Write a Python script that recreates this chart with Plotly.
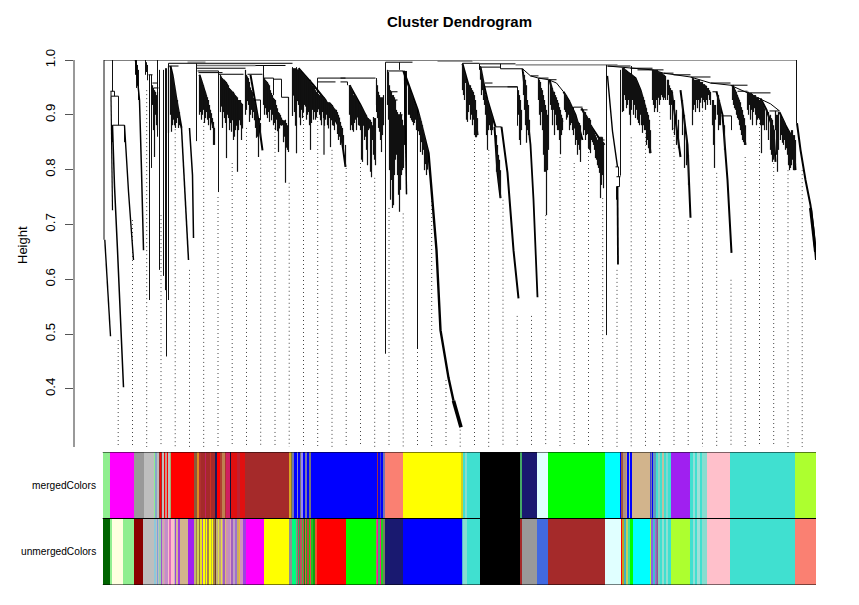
import plotly.graph_objects as go

# ---- colour rows: left edge of each run (leaf position) and its colour
merged_edges = [102.7,109.5,134,144,154,155.5,157,159,160.5,161.5,162.5,164,165,167,168,170,171,194,197,198.7,201,205,206,210,211,215.7,216.7,220,222,225,226,230.3,231,236,237,240,241,245,289.3,291,292,294,297,298,300,301,303,305.7,307.3,309,311,377,378.5,380,381,383,385,403,461.7,462.5,465,467,479.5,520,522,537,548,604.5,620,621.5,623,626,627.5,629,629.8,632,650,651,652,653,656,658,660,662,664,666,668,671,690,693,695,697,700,702,707,730,795]
merged_colors = ['lightgreen','magenta','#999999','#BEBEBE','lightgreen','#87A8C8','#BEBEBE','brown','red','brown','#BEBEBE','red','#C8968C','red','#BEBEBE','#A0B070','red','#8A5A3A','#E08A20','#B03030','#A52A2A','#C02060','#A52A2A','#D03020','#A52A2A','#1A1A5A','red','#B04030','#C08050','#B03030','#D02060','#10103A','#E01010','#E01010','#C02030','#E01010','#E01010','brown','goldenrod','#808030','#7777AA','blue','#8888CC','blue','#777777','#9988EE','blue','#7777AA','blue','#777777','blue','#A03040','blue','#4040D0','blue','#7777AA','salmon','yellow','#D0D020','turquoise','#88DDD0','turquoise','black','#44AA66','midnightblue','lightcyan','lime','cyan','blue','#A05040','#B09080','#C0A080','blue','#A0C0B0','blue','tan','#4444CC','#7777AA','blue','#6699BB','turquoise','#90D0C0','turquoise','#C0C0A0','turquoise','#80D8D0','turquoise','#A020F0','turquoise','#90E0D8','turquoise','#A0E0D8','turquoise','#88DDD0','pink','turquoise','greenyellow']
unmerged_edges = [102.7,109.5,111.7,123,134,143,154,156,157,158,159.5,161,162,164,165,168,169,171,174,175.5,176.5,178,180,188,194,196,197,199,200.5,202,203,205,206,207.5,209,211,212,213,215,216,218,219,221,222,223.5,225,226,228,230,231,233,235,237,239,240,243,246,264,289.3,292,296,297,298,299,300,302,303,304,305,306,307,309,310,311,313,315,317,346,376,377.5,378.5,380,381,382.5,385,403,461,462,463,465,467,479.5,520,521.5,537,548,604.5,620.5,622.5,624,626,628,630,633,650,651.5,653,655,656,657,658,660,662,664,666,668,671,690,693,695,697,700,702,707,730,795]
unmerged_colors = ['darkgreen','lightgreen','lightyellow','lightgreen','darkred','#BEBEBE','#90C8D8','#BEBEBE','#7B9FE0','#BEBEBE','#90D0B0','#A050D0','#C8B0B0','#E090C0','#C090C8','pink','#E070C0','pink','#BEBEBE','#A040E0','#D8B890','#A040E0','tan','#A020F0','#BDB76B','#A58050','#D0D050','#8A7A30','#E8E020','#A060C0','yellow','#B0A060','yellow','#A58050','yellow','#C0C040','yellow','#A08050','#704020','#C0B080','#E0E040','#C0A080','#E8E040','#D0A0A0','#A060C0','#D8C070','#D090B0','#C090C0','#E0A0C0','#A060C0','#C0A0C0','#A070D0','#C8B060','#F0B040','#D090C0','#A040E0','magenta','yellow','#909090','springgreen','#909090','#30C060','#D04060','#30A060','#C05060','#40C040','#D04050','#208020','#E06040','#20B020','#C04040','#10D010','#E05050','#20C020','#10A010','#F05030','red','lime','#C06080','#FF1493','#30C060','#FF1493','#20D020','#708060','midnightblue','blue','blue','#58B8D8','#88DDD0','#88DDD0','turquoise','black','brown','#999999','royalblue','brown','lightcyan','red','#C0A020','#40B0C0','#C0D060','#40E0A0','lime','cyan','greenyellow','#9060E0','#40C0D0','#B060D0','#7777AA','#A05090','#80D0C0','turquoise','#90E0D0','turquoise','#90E0D0','turquoise','greenyellow','turquoise','#90E0D8','turquoise','#A0E0D8','turquoise','#88DDD0','pink','turquoise','salmon']
plot_end = 816.5

# ---- dotted guide lines: leaf position and height where each starts
guide_x = [117.7,132,146.2,160.5,174.7,189,203.2,217.5,231.7,246,260.2,274.5,288.7,303,317.2,331.5,345.7,360,374.2,388.5,402.7,417,431.2,445.5,459.7,474,488.2,502.5,516.7,531,545.2,559.5,573.7,588,602.2,616.5,630.7,645,659.2,673.5,687.7,702,716.2,730.5,744.7,759,773.2,787.5,801.7]
guide_top = [.489,.708,.945,.717,.881,.617,.887,.750,.812,.876,.818,.876,.776,.927,.896,.836,.803,.812,.785,.730,.720,.489,.750,.416,.340,.854,.836,.745,.533,.533,.717,.823,.812,.854,.748,.617,.859,.867,.905,.876,.708,.922,.794,.599,.823,.885,.812,.799,.799]
guide_low = .2938

# ---- merge links: horizontal runs
link_x0 = [103.5,385,168,196,196,197,198,218,247,263,273,281,253,317,317,340,340,387,388,390,397,462,479,480,500,484,484,495,607,630,637,663,673,690,710,730,737,747,769,110,110.5,112,148,152,153,168,507,538,530,548,573,580,597,615,616,616,721,712,597]
link_x1 = [472,412,292,285,245,218,222,243,262,273,281,288,260,345,335,375,347,403,397,397,402,479,515,500,522,492,517,501,630,652,663,673,690,710,730,747,747,770,779,114,118,124,152,157,158,178,517,548,538,556,582,587,602,618,620,619,731,717,604]
link_h = [1.0,.996,.994,.990,.985,.980,.977,.974,.974,.967,.965,.932,.927,.967,.960,.967,.960,.980,.942,.927,.900,.994,.993,.987,.984,.958,.951,.878,.989,.985,.982,.976,.973,.969,.958,.954,.943,.940,.907,.943,.934,.881,.973,.958,.949,.989,.951,.967,.971,.964,.914,.909,.859,.805,.787,.769,.898,.942,.854]
grey_x0 = [472,187,437,515,196]
grey_x1 = [796,205,472,617,255]
grey_h = [1.0,.996,.998,.991,.990]

# ---- vertical stems
stem_x = [103.5,112,110.5,114,118,112,124,168,170,196,218,218,376,385,399,417,417,404,405,406,462,479,500,517,606,620,616,618,619,631,796,731,721,149,151,157,159,163,165,166,168,135,136,137,138,145,146,147,292,296,573,281,288,260,317,347,263,273]
stem_top = [1.0,1.0,.943,.943,.934,.881,.881,.994,.989,.994,.980,.980,.967,.996,.996,.909,.909,.980,.980,.980,.994,.993,.993,.951,.991,.982,.769,.805,.787,.989,1.0,.898,.898,.973,.973,1.0,.982,.982,.985,.985,.987,1.0,1.0,.991,.982,1.0,.996,.991,.987,.987,.914,.965,.932,.927,.967,.960,.990,.967]
stem_low = [.672,.943,.934,.934,.881,.850,.850,.867,.907,.852,.810,.759,.905,.464,.982,.473,.473,.845,.836,.755,.952,.982,.984,.880,.498,.789,.745,.787,.769,.973,.885,.872,.898,.562,.803,.860,.617,.606,.580,.459,.562,.973,.949,.953,.927,.973,.978,.963,.898,.830,.890,.932,.880,.890,.940,.954,.967,.936]

# ---- long arms, as (leaf position, height)
arm_a_x = [104.3,107,110]; arm_a_h = [.672,.580,.496]
arm_b_x = [112,114,117,120,123]; arm_b_h = [.881,.770,.653,.530,.403]
arm_c_x = [124,128,133]; arm_c_h = [.881,.760,.635]
arm_d_x = [110.5,112]; arm_d_h = [.934,.726]
arm_e_x = [135,137,139,141,143]; arm_e_h = [1.0,.964,.927,.799,.653]
arm_f_x = [181,184,188]; arm_f_h = [.876,.763,.635]
arm_g_x = [189,192,193]; arm_g_h = [.876,.790,.675]
arm_h_x = [403,417,428,436,440,448,453]; arm_h_h = [.980,.909,.830,.653,.507,.420,.378]
arm_i_x = [453,459,460.5]; arm_i_h = [.378,.342,.330]
arm_j_x = [501,507,513,518]; arm_j_h = [.878,.794,.653,.565]
arm_k_x = [522,527,530,533,535,537]; arm_k_h = [.984,.900,.845,.745,.653,.567]
arm_l_x = [607,612,617]; arm_l_h = [.971,.870,.805]
arm_m_x = [617,617.5]; arm_m_h = [.769,.627]
arm_n_x = [716,722,727,731]; arm_n_h = [.942,.900,.781,.648]
arm_o_x = [680,687,690]; arm_o_h = [.945,.845,.712]
arm_p_x = [796.5,800,805,810,813,815.5]; arm_p_h = [.885,.836,.781,.735,.690,.635]
arm_q_x = [671,675,680]; arm_q_h = [.945,.891,.823]
arm_r_x = [494,497,500]; arm_r_h = [.878,.794,.748]
arm_s_x = [170,172,176,181]; arm_s_h = [.989,.973,.927,.876]
arm_t_x = [199,205,213]; arm_t_h = [.973,.938,.876]
arm_u_x = [250,258,262]; arm_u_h = [.973,.889,.835]
arm_v_x = [298,313,325,340,345]; arm_v_h = [.985,.954,.927,.872,.805]
arm_w_x = [349,360,371]; arm_w_h = [.954,.918,.877]
arm_x_x = [462,468,475,477]; arm_x_h = [.993,.954,.900,.863]
arm_y_x = [480,483,487,495]; arm_y_h = [.987,.958,.927,.878]
arm_z_x = [622,635,640,645,650]; arm_z_h = [.985,.967,.945,.912,.830]
arm_aa_x = [563,568,575,582]; arm_aa_h = [.942,.927,.900,.854]
arm_ab_x = [581,590,598,604]; arm_ab_h = [.912,.881,.859,.845]
arm_ac_x = [732,738,745]; arm_ac_h = [.954,.927,.845]
arm_ad_x = [760,766,773,775]; arm_ad_h = [.930,.909,.872,.814]
arm_ae_x = [779,785,793,795]; arm_ae_h = [.905,.881,.854,.799]
arm_af_x = [549,553,558,562]; arm_af_h = [.964,.936,.909,.887]
arm_ag_x = [404,406]; arm_ag_h = [.980,.755]
arm_ah_x = [810,812,815]; arm_ah_h = [.730,.700,.650]
arm_ai_x = [522,530,538,548,556,563]; arm_ai_h = [.984,.971,.967,.964,.958,.942]
arm_aj_x = [607,630,652,663,673,690,710,730,747,770,779]; arm_aj_h = [.989,.985,.982,.976,.973,.969,.958,.954,.940,.920,.907]

# ---- fans of leaves: position, height of the top, height of the lowest leaf
fan1_x = [168,170,171,172,173,174,175,176,177,178,179]
fan1_t = [.989,.982,.978,.973,.967,.954,.945,.932,.927,.912,.905]
fan1_l = [.867,.900,.869,.881,.891,.881,.876,.885,.894,.876,.881]
fan2_x = [199,200,201,203,204,205,207,208,209,210,211,212,213,214]
fan2_t = [.973,.967,.964,.954,.945,.942,.932,.927,.918,.909,.903,.894,.887,.876]
fan2_l = [.900,.905,.891,.909,.885,.894,.891,.881,.894,.872,.889,.876,.845,.845]
fan3_x = [220,222,224,226,228,229,231,233,235,237,238,240,241]
fan3_t = [.973,.967,.964,.960,.954,.949,.945,.942,.936,.932,.927,.927,.922]
fan3_l = [.905,.876,.894,.821,.894,.872,.869,.854,.872,.796,.872,.881,.854]
fan4_x = [245,246,248,249,251,252,253,255,256,258,259]
fan4_t = [.982,.973,.967,.960,.945,.942,.931,.918,.909,.891,.894]
fan4_l = [.900,.909,.918,.887,.909,.894,.905,.876,.858,.823,.881]
fan5_x = [263,264,265,267,269,270,272,273,275,276,278,280,282,285,287,288]
fan5_t = [.973,.967,.964,.960,.954,.945,.936,.931,.927,.918,.905,.900,.891,.891,.881,.932]
fan5_l = [.918,.900,.912,.894,.887,.909,.900,.881,.872,.891,.832,.881,.881,.776,.836,.832]
fan6_x = [292,296,298,300,301,302,304,306,308,309,310,312,313,315,317,319,321,323,323.5,325,327,329,330,332,334,336,338,340,342,343,345]
fan6_t = [.985,.985,.982,.982,.978,.976,.973,.969,.964,.960,.964,.954,.954,.945,.940,.936,.936,.932,.932,.927,.923,.923,.922,.918,.912,.909,.900,.887,.876,.863,.845]
fan6_l = [.898,.830,.918,.881,.909,.894,.918,.891,.905,.881,.836,.909,.891,.891,.905,.900,.881,.894,.827,.891,.881,.894,.841,.881,.872,.887,.854,.845,.845,.836,.805]
fan7_x = [349,350,351,352,353,355,356,358,360,361,362,364,366,367,368,370,371,372,373,374,375]
fan7_t = [.954,.954,.949,.945,.936,.936,.931,.923,.918,.914,.912,.905,.900,.894,.894,.891,.887,.881,.896,.894,.894]
fan7_l = [.900,.872,.881,.872,.869,.891,.872,.881,.872,.818,.814,.854,.836,.808,.872,.796,.786,.854,.827,.818,.808]
fan8_x = [376,377,378,379,380,381,382,383]
fan8_t = [.964,.954,.942,.936,.932,.932,.932,.936]
fan8_l = [.918,.894,.876,.869,.854,.832,.863,.881]
fan9_x = [387,388,389,390,391,392,393,394,395,396,397,398,399,400,401,402,403]
fan9_t = [.982,.978,.954,.945,.942,.936,.936,.932,.927,.909,.905,.900,.900,.905,.900,.891,.881]
fan9_l = [.918,.891,.799,.745,.781,.730,.735,.790,.818,.827,.790,.754,.723,.763,.790,.799,.803]
fan10_x = [408,410,412,413,415,416,419,420,422,423,424,426]
fan10_t = [.954,.942,.936,.927,.918,.914,.900,.894,.881,.872,.863,.845]
fan10_l = [.900,.894,.887,.881,.891,.872,.863,.832,.827,.836,.799,.790]
fan11_x = [462,463,464,465,466,467,468,469,470,471,472,473,474,475,476,477]
fan11_t = [.993,.985,.978,.973,.964,.960,.954,.954,.954,.949,.945,.942,.936,.927,.909,.894]
fan11_l = [.945,.936,.927,.958,.891,.887,.905,.918,.891,.900,.881,.891,.863,.859,.859,.863]
fan12_x = [480,481,482,483,484,485,486,487,488,489,490,491,492]
fan12_t = [.989,.982,.973,.964,.945,.936,.931,.927,.922,.914,.909,.903,.898]
fan12_l = [.964,.936,.945,.927,.918,.900,.863,.836,.872,.881,.872,.863,.872]
fan13_x = [496,497,498,499,500,518,519,520,521]
fan13_t = [.863,.845,.827,.818,.799,.945,.936,.927,.909]
fan13_l = [.796,.794,.776,.763,.748,.900,.854,.845,.872]
fan14_x = [523,524,525,526,527,528,529]
fan14_t = [.978,.973,.964,.954,.927,.918,.891]
fan14_l = [.936,.909,.881,.849,.872,.863,.854]
fan15_x = [538,539,540,541,542,543,544,545,546,547,548]
fan15_t = [.967,.964,.960,.949,.945,.936,.927,.918,.909,.900,.964]
fan15_l = [.927,.900,.881,.905,.872,.827,.796,.796,.717,.799,.836]
fan16_x = [550,551,552,553,554,555,556,557,558,559,560,561,562]
fan16_t = [.960,.954,.949,.942,.942,.936,.932,.927,.922,.914,.909,.900,.894]
fan16_l = [.918,.909,.881,.909,.863,.900,.881,.872,.872,.854,.828,.863,.872]
fan17_x = [564,566,568,569,570,572,573,575,576,577,578,579,580]
fan17_t = [.940,.936,.927,.927,.922,.912,.909,.900,.894,.891,.887,.885,.881]
fan17_l = [.909,.891,.900,.872,.881,.872,.863,.845,.854,.827,.845,.836,.814]
fan18_x = [583,584,585,586,588,589,590,591,592,593,594,595,596,597,598,599,600,601,602,603]
fan18_t = [.909,.905,.905,.900,.894,.894,.891,.881,.876,.872,.867,.863,.859,.854,.859,.854,.859,.859,.859,.850]
fan18_l = [.863,.872,.854,.863,.839,.836,.830,.854,.850,.845,.836,.821,.818,.808,.803,.794,.748,.772,.790,.766]
fan19_x = [622,623,624,625,626,627,628,629,630,631,632,633,634,635,636,637,638,639,640,641,642,643,644,645,646,647,648,649,650]
fan19_t = [.985,.985,.985,.982,.982,.978,.978,.976,.976,.974,.973,.971,.967,.967,.964,.960,.954,.951,.945,.942,.936,.932,.927,.918,.912,.905,.900,.891,.872]
fan19_l = [.905,.907,.936,.927,.912,.918,.927,.900,.881,.909,.927,.900,.918,.894,.909,.891,.885,.881,.900,.881,.867,.881,.872,.872,.845,.854,.839,.830,.830]
fan20_x = [652,653,654,655,656,657,658,659,660,661,662,663,664,665,667,668,669,670,671,672,674,676,678]
fan20_t = [.982,.982,.982,.982,.982,.982,.978,.978,.978,.978,.976,.974,.973,.971,.964,.964,.954,.949,.942,.942,.927,.909,.891]
fan20_l = [.927,.918,.905,.912,.927,.905,.931,.918,.927,.936,.932,.927,.931,.927,.927,.936,.918,.891,.918,.872,.863,.845,.839]
fan21_x = [682,684,686,688,692,693,694,695,696,697,698,699,700,701,702,703,704,705,706,707,708,709,710,712,713,714,715,717,718,719,720,724]
fan21_t = [.927,.900,.863,.827,.967,.967,.964,.964,.964,.964,.964,.964,.960,.960,.960,.956,.956,.954,.953,.949,.949,.945,.942,.927,.927,.918,.918,.936,.936,.927,.918,.881]
fan21_l = [.863,.803,.808,.772,.881,.909,.918,.905,.927,.912,.927,.905,.922,.931,.912,.927,.923,.909,.927,.918,.936,.927,.918,.881,.845,.803,.891,.900,.872,.881,.881,.836]
fan22_x = [732,733,734,735,736,737,738,739,740,741,742,743,744,745]
fan22_t = [.954,.949,.949,.945,.942,.936,.931,.927,.923,.914,.909,.900,.894,.881]
fan22_l = [.927,.918,.912,.909,.900,.894,.891,.881,.872,.863,.854,.850,.845,.845]
fan23_x = [747,748,749,750,751,752,753,754,755,756,757,758,759,760,761,762,763,764]
fan23_t = [.942,.942,.940,.940,.940,.938,.936,.936,.936,.932,.932,.932,.927,.927,.927,.923,.918,.912]
fan23_l = [.909,.900,.918,.891,.909,.881,.905,.912,.900,.881,.891,.894,.891,.881,.830,.881,.881,.872]
fan24_x = [766,768,770,771,772,773,774,775,776,777,778]
fan24_t = [.909,.905,.900,.894,.891,.881,.872,.907,.900,.900,.905]
fan24_l = [.872,.854,.836,.827,.814,.818,.827,.872,.827,.796,.836]
fan25_x = [780,781,782,783,784,785,786,787,788,789,790,791,792,793,794,795]
fan25_t = [.900,.894,.894,.891,.887,.881,.876,.872,.872,.869,.867,.872,.872,.863,.863,.854]
fan25_l = [.854,.863,.849,.845,.854,.836,.839,.827,.808,.799,.803,.808,.818,.799,.799,.808]
fan26_x = [152,153,154,155,156,157]
fan26_t = [.954,.949,.945,.942,.936,.942]
fan26_l = [.918,.872,.823,.900,.881,.872]
fan27_x = [202,206,221,223,225,227,230,232,234,236,239,242,247,250,254,257,260,266,268,271,274,277,279,281,283,284,286]
fan27_t = [.958,.936,.970,.965,.962,.957,.947,.943,.939,.934,.927,.920,.970,.950,.925,.900,.885,.962,.957,.940,.929,.912,.903,.895,.890,.890,.885]
fan27_l = [.900,.905,.915,.905,.885,.900,.885,.890,.860,.880,.890,.875,.925,.900,.890,.860,.860,.900,.905,.890,.885,.870,.875,.880,.850,.860,.840]
fan28_x = [293,294,295,297,299,303,305,307,311,314,316,318,320,322,324,326,328,331,333,335,337,339,341]
fan28_t = [.985,.985,.985,.983,.982,.975,.971,.966,.956,.950,.942,.938,.936,.933,.930,.925,.923,.920,.915,.910,.905,.895,.880]
fan28_l = [.935,.905,.880,.925,.895,.905,.915,.900,.885,.905,.895,.910,.890,.905,.880,.900,.875,.890,.880,.890,.865,.860,.850]
fan29_x = [354,357,359,363,365,369,409,411,414,418,421,425,427]
fan29_t = [.936,.927,.920,.908,.902,.892,.948,.939,.922,.904,.888,.855,.840]
fan29_l = [.885,.895,.880,.880,.860,.875,.900,.890,.885,.870,.850,.810,.800]
fan30_x = [565,567,571,574,587]
fan30_t = [.938,.930,.917,.905,.897]
fan30_l = [.905,.895,.885,.875,.865]

y_ticks = [0.4,0.5,0.6,0.7,0.8,0.9,1.0]
y_tick_text = ['0.4','0.5','0.6','0.7','0.8','0.9','1.0']
row_names = ['unmergedColors','mergedColors']

fig = go.Figure()

def add_segments(xs, ys, color, width, dash=None, axis='y'):
    fig.add_trace(go.Scatter(x=xs, y=ys, mode='lines', cliponaxis=False, hoverinfo='skip',
                             line=dict(color=color, width=width, dash=dash), yaxis=axis, showlegend=False))

gx, gy = [], []
for x, t in zip(guide_x, guide_top):
    gx += [x, x, None]; gy += [t, guide_low, None]
add_segments(gx, gy, '#444444', 1, '1px,3px')

def add_row(edges, colors, row):
    ends = edges[1:] + [plot_end]
    fig.add_trace(go.Bar(base=[e - 0.5 for e in edges], x=[e - s for s, e in zip(edges, ends)], y=[row] * len(edges),
                         orientation='h', width=1, marker=dict(color=colors, line=dict(width=0)),
                         yaxis='y2', showlegend=False, hoverinfo='skip'))
add_row(merged_edges, merged_colors, 1.5)
add_row(unmerged_edges, unmerged_colors, 0.5)
add_segments([102.2, 816, None, 102.2, 816, None, 102.2, 816],
             [0, 0, None, 1, 1, None, 2, 2], 'black', 1, axis='y2')

lx, ly = [], []
for a, b, h in zip(link_x0, link_x1, link_h):
    lx += [a, b, None]; ly += [h, h, None]
add_segments(lx, ly, 'black', 1)
gxs, gys = [], []
for a, b, h in zip(grey_x0, grey_x1, grey_h):
    gxs += [a, b, None]; gys += [h, h, None]
add_segments(gxs, gys, '#777777', 1.3)

sx, sy = [], []
for x, t, l in zip(stem_x, stem_top, stem_low):
    sx += [x, x, None]; sy += [t, l, None]
add_segments(sx, sy, '#111111', 1)

arms = [(arm_a_x,arm_a_h,1.4),(arm_b_x,arm_b_h,1.5),(arm_c_x,arm_c_h,1.4),(arm_d_x,arm_d_h,1.2),(arm_e_x,arm_e_h,1.5),
        (arm_f_x,arm_f_h,1.5),(arm_g_x,arm_g_h,1.5),(arm_h_x,arm_h_h,2.4),(arm_i_x,arm_i_h,3.6),(arm_j_x,arm_j_h,2),
        (arm_k_x,arm_k_h,1.8),(arm_l_x,arm_l_h,1.4),(arm_m_x,arm_m_h,1.8),(arm_n_x,arm_n_h,2),(arm_o_x,arm_o_h,2),
        (arm_p_x,arm_p_h,2),(arm_q_x,arm_q_h,2),(arm_r_x,arm_r_h,2),(arm_s_x,arm_s_h,2),(arm_t_x,arm_t_h,2),
        (arm_u_x,arm_u_h,2),(arm_v_x,arm_v_h,2),(arm_w_x,arm_w_h,2),(arm_x_x,arm_x_h,2),(arm_y_x,arm_y_h,2),
        (arm_z_x,arm_z_h,2),(arm_aa_x,arm_aa_h,2),(arm_ab_x,arm_ab_h,2),(arm_ac_x,arm_ac_h,2),(arm_ad_x,arm_ad_h,2),
        (arm_ae_x,arm_ae_h,2),(arm_af_x,arm_af_h,2),(arm_ag_x,arm_ag_h,1.5),(arm_ah_x,arm_ah_h,3),
        (arm_ai_x,arm_ai_h,1),(arm_aj_x,arm_aj_h,1)]
for ax, ah, w in arms:
    add_segments(ax, ah, 'black', w)

fans = [(fan1_x,fan1_t,fan1_l),(fan2_x,fan2_t,fan2_l),(fan3_x,fan3_t,fan3_l),(fan4_x,fan4_t,fan4_l),(fan5_x,fan5_t,fan5_l),
        (fan6_x,fan6_t,fan6_l),(fan7_x,fan7_t,fan7_l),(fan8_x,fan8_t,fan8_l),(fan9_x,fan9_t,fan9_l),(fan10_x,fan10_t,fan10_l),
        (fan11_x,fan11_t,fan11_l),(fan12_x,fan12_t,fan12_l),(fan13_x,fan13_t,fan13_l),(fan14_x,fan14_t,fan14_l),(fan15_x,fan15_t,fan15_l),
        (fan16_x,fan16_t,fan16_l),(fan17_x,fan17_t,fan17_l),(fan18_x,fan18_t,fan18_l),(fan19_x,fan19_t,fan19_l),(fan20_x,fan20_t,fan20_l),
        (fan21_x,fan21_t,fan21_l),(fan22_x,fan22_t,fan22_l),(fan23_x,fan23_t,fan23_l),(fan24_x,fan24_t,fan24_l),(fan25_x,fan25_t,fan25_l),
        (fan26_x,fan26_t,fan26_l),(fan27_x,fan27_t,fan27_l),(fan28_x,fan28_t,fan28_l),(fan29_x,fan29_t,fan29_l),(fan30_x,fan30_t,fan30_l)]
fx, fy = [], []
for xs, ts, ls in fans:
    for x, t, l in zip(xs, ts, ls):
        fx += [x, x, None]; fy += [t, l, None]
add_segments(fx, fy, '#111111', 1.2)

W, H = 859, 605
fig.update_layout(
    width=W, height=H, margin=dict(l=0, r=0, t=0, b=0), paper_bgcolor='white', plot_bgcolor='white',
    barmode='overlay', bargap=0,
    font=dict(family='Liberation Sans', color='black'),
    title=dict(text='<b>Cluster Dendrogram</b>', x=459.5/W, xanchor='center', y=1 - 22/H, yanchor='middle',
               font=dict(size=15, family='Liberation Sans', color='black')),
    xaxis=dict(range=[74.5, 815.5], domain=[75/W, 816/W], visible=False, fixedrange=True, automargin=False),
    yaxis=dict(range=[0.2938, 1.0], domain=[1 - 447/H, 1 - 60/H], tickmode='array', tickvals=y_ticks, ticktext=y_tick_text,
               tickangle=-90, ticks='outside', ticklen=8, tickwidth=1, tickcolor='#555555', showline=True, linecolor='#999999',
               linewidth=2, showgrid=False, zeroline=False, tickfont=dict(size=13.3, family='Liberation Sans'), fixedrange=True,
               automargin=False, ticklabelstandoff=5),
    yaxis2=dict(range=[0, 2], domain=[1 - 585/H, 1 - 452/H], visible=False, anchor='x', fixedrange=True, automargin=False),
    annotations=[
        dict(text='Height', x=22/W, y=1 - 245/H, xref='paper', yref='paper', textangle=-90, showarrow=False,
             font=dict(size=13, family='Liberation Sans'), xanchor='center', yanchor='middle'),
        dict(text=row_names[1], x=97, xref='x', y=1.5, yref='y2', xanchor='right', showarrow=False,
             font=dict(size=10.2, family='Liberation Sans')),
        dict(text=row_names[0], x=97, xref='x', y=0.5, yref='y2', xanchor='right', showarrow=False,
             font=dict(size=10.2, family='Liberation Sans')),
    ],
)
fig.write_html("out.html", post_script="document.body.style.margin='0';", config={'displayModeBar': False})
